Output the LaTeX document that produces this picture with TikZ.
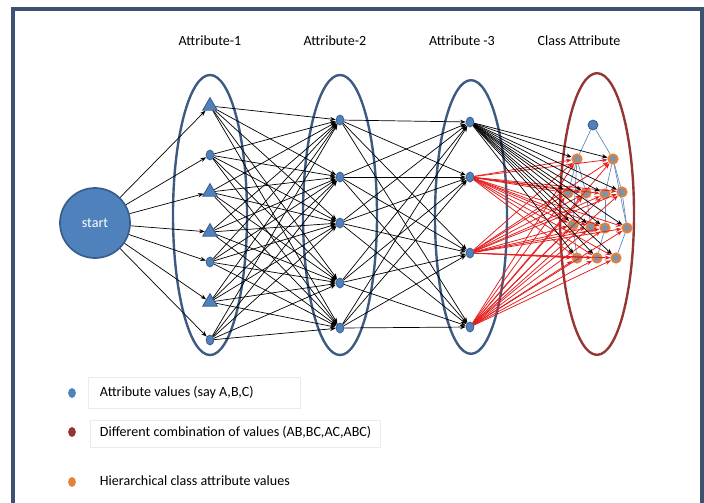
\documentclass[tikz,border=0pt]{standalone}
\usepackage{fontspec}
\setmainfont{Carlito}
\usetikzlibrary{arrows.meta,shapes.geometric}

\begin{document}
\begin{tikzpicture}[x=0.025cm, y=-0.025cm, >={Stealth[length=4pt,width=3pt]},
  valnode/.style={ellipse, draw=valedge, fill=valfill, line width=0.6pt, inner sep=0pt, minimum width=5.5pt, minimum height=7pt},
  trinode/.style={regular polygon, regular polygon sides=3, draw=valedge, fill=valfill, line width=0.6pt, inner sep=0pt, minimum size=12pt},
  hiernode/.style={circle, draw=hieredge, fill=hierfill, line width=1.4pt, inner sep=0pt, minimum size=6.5pt},
  flow/.style={->, black, line width=0.5pt},
  redflow/.style={->, redline, line width=0.55pt},
  hier/.style={hierline, line width=0.5pt},
  headtext/.style={font=\fontsize{10}{12}\selectfont},
  legtext/.style={font=\fontsize{10}{12}\selectfont, anchor=west},
  legbox/.style={draw=black!8, line width=0.4pt},
  legdot/.style={ellipse, inner sep=0pt, minimum width=5.5pt, minimum height=7pt}
]

\definecolor{valfill}{RGB}{79, 129, 189}
\definecolor{valedge}{RGB}{56, 93, 138}
\definecolor{ringblue}{RGB}{60, 90, 130}
\definecolor{ringred}{RGB}{148, 54, 52}
\definecolor{hieredge}{RGB}{228, 128, 58}
\definecolor{hierfill}{RGB}{128, 146, 170}
\definecolor{hierline}{RGB}{100, 140, 190}
\definecolor{redline}{RGB}{228, 30, 30}
\definecolor{framecolor}{RGB}{60, 82, 112}

\clip (0,0) rectangle (704,502);
\draw[framecolor, line width=2.2pt] (13,9) rectangle (702,540);

% column headings
\node[headtext] (h1) at (210,41) {Attribute-1};
\node[headtext] (h2) at (335,41) {Attribute-2};
\node[headtext] (h3) at (462,41) {Attribute -3};
\node[headtext] (h4) at (579,41) {Class Attribute};

% groups
\draw[ringblue, line width=1.7pt] (210,215) ellipse [x radius=0.925cm, y radius=3.5cm];
\draw[ringblue, line width=1.7pt] (340,215) ellipse [x radius=0.925cm, y radius=3.5cm];
\draw[ringblue, line width=1.7pt] (471,217) ellipse [x radius=0.9cm, y radius=3.42cm];
\draw[ringred, line width=1.7pt] (597,214) ellipse [x radius=0.925cm, y radius=3.52cm];

\node[circle, fill=valfill, draw=valedge, line width=1.2pt, minimum size=1.75cm, text=white,
  font=\fontsize{10}{12}\selectfont] (st) at (95,223) {start};

% attribute-1
\node[trinode] (a1) at (210,106) {};
\node[valnode] (a2) at (210,155) {};
\node[trinode] (a3) at (210,192) {};
\node[trinode] (a4) at (210,232) {};
\node[valnode] (a5) at (210,262) {};
\node[trinode] (a6) at (210,302) {};
\node[valnode] (a7) at (210,340) {};

% attribute-2
\node[valnode] (b1) at (340,120) {};
\node[valnode] (b2) at (340,177) {};
\node[valnode] (b3) at (340,223) {};
\node[valnode] (b4) at (340,283) {};
\node[valnode] (b5) at (340,328) {};

% attribute-3
\node[valnode] (c1) at (470,122) {};
\node[valnode] (c2) at (470,177) {};
\node[valnode] (c3) at (470,253) {};
\node[valnode] (c4) at (470,327) {};

% class attribute
\node[valnode, minimum width=7pt, minimum height=7pt] (k0) at (593,125) {};
\node[hiernode] (o11) at (577,159) {};
\node[hiernode] (o12) at (613,159) {};
\node[hiernode] (o21) at (568,193) {};
\node[hiernode] (o22) at (586,193) {};
\node[hiernode] (o23) at (605,194) {};
\node[hiernode] (o24) at (622,192) {};
\node[hiernode] (o31) at (573,225) {};
\node[hiernode] (o32) at (591,227) {};
\node[hiernode] (o33) at (605,228) {};
\node[hiernode] (o34) at (627,228) {};
\node[hiernode] (o41) at (577,258) {};
\node[hiernode] (o42) at (597,258) {};
\node[hiernode] (o43) at (616,258) {};

\draw[hier] (k0) -- (o11);
\draw[hier] (k0) -- (o12);
\foreach \t in {o21,o22,o31} \draw[hier] (o11) -- (\t);
\foreach \t in {o23,o24,o34} \draw[hier] (o12) -- (\t);
\draw[hier] (o22) -- (o32);
\draw[hier] (o23) -- (o33);
\draw[hier] (o24) -- (o34);
\draw[hier] (o31) -- (o41);
\draw[hier] (o33) -- (o42);
\draw[hier] (o34) -- (o43);

% connectors
\foreach \i in {1,...,7} \draw[flow] (st) -- (a\i);
\foreach \i in {1,...,7} \foreach \j in {1,...,5} \draw[flow] (a\i) -- (b\j);
\foreach \i in {1,...,5} \foreach \j in {1,...,4} \draw[flow] (b\i) -- (c\j);
\foreach \i in {2,3,4}
  \foreach \t in {o11,o12,o21,o22,o23,o24,o31,o32,o33,o34,o41,o42,o43}
    \draw[redflow] (c\i) -- (\t);
\foreach \t in {o11,o12,o21,o22,o23,o24,o31,o32,o33,o34,o41,o42,o43}
  \draw[flow] (c1) -- (\t);

% legend
\draw[legbox] (88,377) rectangle (300,408);
\draw[legbox] (90,420) rectangle (380,447);
\node[legdot, fill=valfill] (l1) at (72,393) {};
\node[legdot, fill=ringred] (l2) at (72,432) {};
\node[legdot, fill=hieredge] (l3) at (72,482) {};
\node[legtext] (t1) at (95,392) {Attribute values (say A,B,C)};
\node[legtext] (t2) at (95,432) {Different combination of values (AB,BC,AC,ABC)};
\node[legtext] (t3) at (95,481) {Hierarchical class attribute values};

\end{tikzpicture}
\end{document}
